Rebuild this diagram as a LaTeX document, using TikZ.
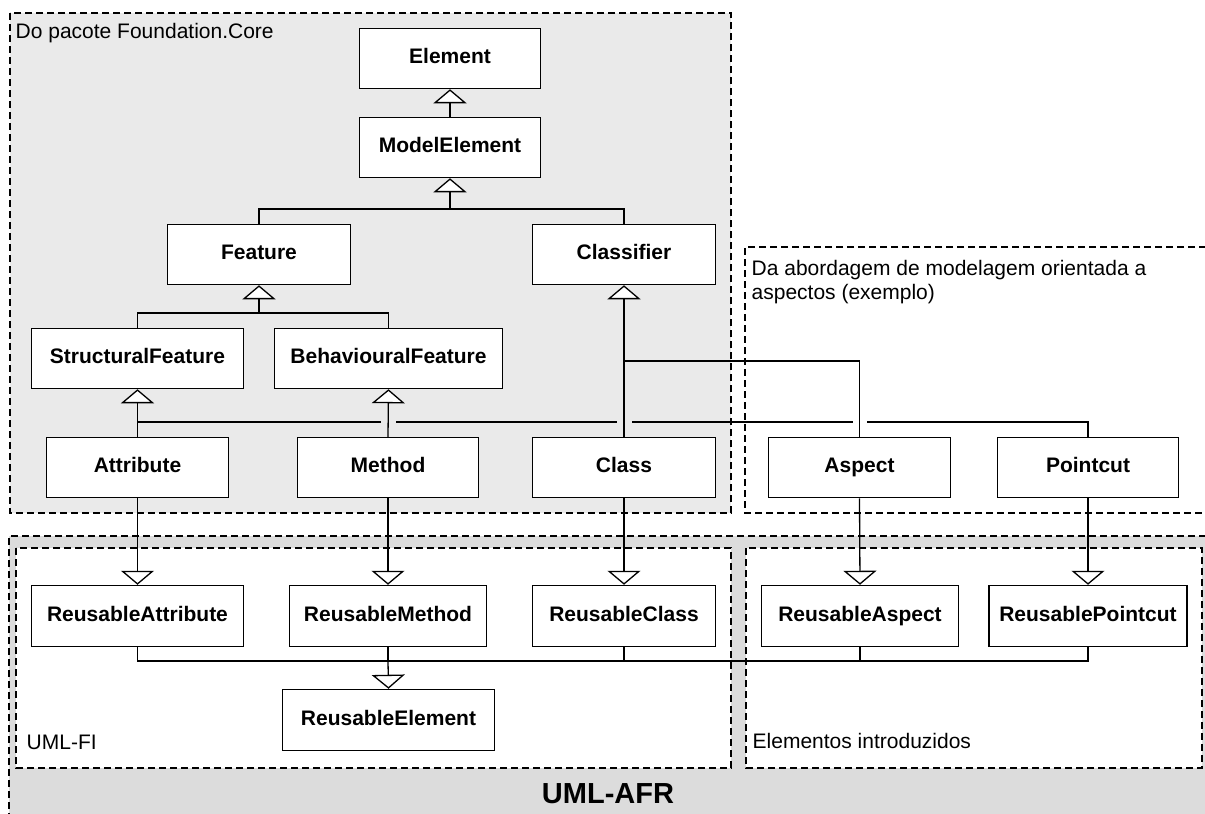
\documentclass[tikz,border=0pt]{standalone}
\usepackage{fontspec}
\setmainfont{Liberation Sans}
\usetikzlibrary{arrows.meta}
\definecolor{coregray}{RGB}{234,234,234}
\definecolor{afrgray}{RGB}{220,220,220}
\begin{document}
\begin{tikzpicture}[x=1pt,y=-1pt,
  cls/.style={draw=black, line width=1.5pt, fill=white, inner sep=0pt,
    minimum height=60pt, text height=15pt, text depth=4.5pt,
    font=\fontsize{21}{25}\selectfont\bfseries},
  conn/.style={line width=1.3pt},
  gen/.style={conn, -{Triangle[fill=white,length=14pt,width=33pt]}},
  region/.style={dash pattern=on 7pt off 4pt, line width=1.3pt},
  lbl/.style={inner sep=0pt, font=\fontsize{21}{24}\selectfont, anchor=base west}
]
\useasboundingbox (0,0) rectangle (1205,814);
% ---------- regions ----------
\fill[coregray] (10,13) rectangle (731,513);
\draw[region] (10,13) rectangle (731,513);
\draw[region] (1206,247) -- (745,247) -- (745,513) -- (1206,513);
\fill[afrgray] (9,536) rectangle (1210,820);
\draw[region] (9,820) -- (9,536) -- (1210,536);
\fill[white] (16,548) rectangle (731,768);
\draw[region] (16,548) rectangle (731,768);
\fill[white] (746,548) rectangle (1202,768);
\draw[region] (746,548) rectangle (1202,768);
% ---------- region labels ----------
\node[lbl] (lcore) at (15.5,38) {Do pacote Foundation.Core};
\node[lbl, align=left] (laop) at (751.5,299) {Da abordagem de modelagem orientada a\\aspectos (exemplo)};
\node[lbl] (lfi) at (26.5,749) {UML-FI};
\node[lbl] (lintro) at (752.5,748) {Elementos introduzidos};
\node[inner sep=0pt, font=\fontsize{29}{32}\selectfont\bfseries, anchor=base] (lafr) at (608,803) {UML-AFR};
% ---------- classes ----------
\node[cls, minimum width=181pt] (element) at (450,58.5) {Element};
\node[cls, minimum width=181pt] (modelelement) at (450,147.5) {ModelElement};
\node[cls, minimum width=183pt] (feature) at (259,254.5) {Feature};
\node[cls, minimum width=183pt] (classifier) at (624,254.5) {Classifier};
\node[cls, minimum width=212pt] (sfeature) at (137.5,358.5) {StructuralFeature};
\node[cls, minimum width=228pt] (bfeature) at (388.5,358.5) {BehaviouralFeature};
\node[cls, minimum width=182pt] (attribute) at (137.5,467.5) {Attribute};
\node[cls, minimum width=181pt] (method) at (388,467.5) {Method};
\node[cls, minimum width=183pt] (class) at (624,467.5) {Class};
\node[cls, minimum width=182pt] (aspect) at (859.5,467.5) {Aspect};
\node[cls, minimum width=181pt] (pointcut) at (1088,467.5) {Pointcut};
\node[cls, minimum width=212pt, minimum height=61pt] (rattribute) at (137.5,616) {ReusableAttribute};
\node[cls, minimum width=197pt, minimum height=61pt] (rmethod) at (388,616) {ReusableMethod};
\node[cls, minimum width=183pt, minimum height=61pt] (rclass) at (624,616) {ReusableClass};
\node[cls, minimum width=197pt, minimum height=61pt] (raspect) at (860,616) {ReusableAspect};
\node[cls, minimum width=198pt, minimum height=61pt] (rpointcut) at (1088,616) {ReusablePointcut};
\node[cls, minimum width=212pt, minimum height=61pt] (relement) at (388.5,720) {ReusableElement};
% ---------- junction points ----------
\coordinate (j1) at (450,209);
\coordinate (j2) at (259,313);
\coordinate (j4) at (624,361);
\coordinate (h0) at (137.5,422);
\coordinate (h1) at (381,422);
\coordinate (h2) at (396,422);
\coordinate (h3) at (616.5,422);
\coordinate (h4) at (631.5,422);
\coordinate (h5) at (852.5,422);
\coordinate (h6) at (867,422);
\coordinate (bj) at (388,661);
% ---------- generalizations (upper) ----------
\draw[gen] (modelelement.north) -- (element.south);
\draw[conn] (feature.north) |- (j1) -| (classifier.north);
\draw[gen] (j1) -- (modelelement.south);
\draw[conn] (sfeature.north) |- (j2) -| (bfeature.north);
\draw[gen] (j2) -- (feature.south);
\draw[gen] (attribute.north) -- (sfeature.south);
\draw[gen] (method.north) -- (bfeature.south);
\draw[gen] (class.north) -- (classifier.south);
\draw[conn] (aspect.north) |- (j4);
\draw[conn] (pointcut.north) |- (h6);
\draw[conn] (h5) -- (h4);
\draw[conn] (h3) -- (h2);
\draw[conn] (h1) -- (h0);
% ---------- generalizations (lower) ----------
\draw[gen] (attribute.south) -- (rattribute.north);
\draw[gen] (method.south) -- (rmethod.north);
\draw[gen] (class.south) -- (rclass.north);
\draw[gen] (aspect.south) -- (raspect.north);
\draw[gen] (pointcut.south) -- (rpointcut.north);
\draw[conn] (rattribute.south) |- (bj) -| (rpointcut.south);
\draw[conn] (rmethod.south) -- (bj);
\draw[conn] (rclass.south) -- (rclass.south |- bj);
\draw[conn] (raspect.south) -- (raspect.south |- bj);
\draw[gen] (bj) -- (relement.north);
\end{tikzpicture}
\end{document}
